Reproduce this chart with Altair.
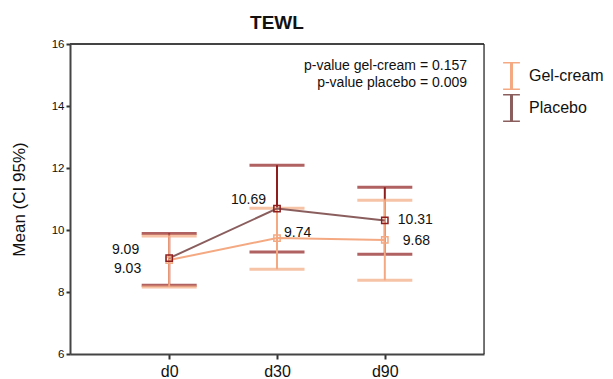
import altair as alt
import pandas as pd

days = ["d0", "d30", "d90"]
groups = ["Gel-cream", "Placebo"]
gel_mean = [9.03, 9.74, 9.68]
gel_low = [8.16, 8.73, 8.38]
gel_high = [9.81, 10.70, 10.96]
pla_mean = [9.09, 10.69, 10.31]
pla_low = [8.22, 9.29, 9.22]
pla_high = [9.89, 12.09, 11.38]
pvalue_lines = ["p-value gel-cream = 0.157", "p-value placebo = 0.009"]

rows = []
for g, m, lo, hi in [("Gel-cream", gel_mean, gel_low, gel_high),
                     ("Placebo", pla_mean, pla_low, pla_high)]:
    for d, mv, lv, hv in zip(days, m, lo, hi):
        rows.append({"group": g, "day": d, "mean": mv, "low": lv, "high": hv,
                     "label": f"{mv:.2f}"})
df = pd.DataFrame(rows)

FONT = "Liberation Sans"
GEL = "#f4a982"
PLA_BAR = "#8e1e1e"
PLA_LINE = "#8b5e5e"
W, H = 414, 310

x_enc = alt.X("day:N", sort=days, title=None,
              scale=alt.Scale(type="point", padding=0.92),
              axis=alt.Axis(labelAngle=0, labelFontSize=16, tickSize=5, tickWidth=2,
                            labelPadding=4, domainWidth=2, domainColor="#444",
                            tickColor="#333", labelColor="#111", labelFont=FONT))
y_scale = alt.Scale(domain=[6, 16], nice=False, zero=False)
y_axis = alt.Axis(values=[6, 8, 10, 12, 14, 16], title="Mean (CI 95%)", grid=False,
                  labelFontSize=11.5, tickSize=4, tickWidth=2, labelPadding=2,
                  domainWidth=2, domainColor="#444", tickColor="#333",
                  labelColor="#111", titleFontSize=17, titleFontWeight="normal",
                  titleColor="#111", titlePadding=23, labelFont=FONT, titleFont=FONT)

base = alt.Chart(df)


def errbars(group, color):
    sub = base.transform_filter(alt.datum.group == group)
    rule = sub.mark_rule(color=color, strokeWidth=2).encode(
        x=x_enc, y=alt.Y("low:Q", scale=y_scale, axis=y_axis), y2="high:Q")
    lo = sub.mark_tick(color=color, thickness=3, size=55, orient="horizontal").encode(
        x=x_enc, y=alt.Y("low:Q", scale=y_scale))
    hi = sub.mark_tick(color=color, thickness=3, size=55, orient="horizontal").encode(
        x=x_enc, y=alt.Y("high:Q", scale=y_scale))
    return [rule, lo, hi]


lines = base.mark_line(strokeWidth=2).encode(
    x=x_enc, y=alt.Y("mean:Q", scale=y_scale),
    color=alt.Color("group:N", sort=groups,
                    scale=alt.Scale(domain=groups, range=[GEL, PLA_LINE]),
                    legend=alt.Legend(title=None, orient="none", legendX=433, legendY=18,
                                      symbolType="M-1.2,-2H1.2M0,-2V2M-1.2,2H1.2",
                                      symbolSize=196, symbolStrokeWidth=3,
                                      symbolFillColor="transparent",
                                      labelFontSize=16, labelFont=FONT, labelColor="#111",
                                      labelOffset=9, rowPadding=4, clipHeight=28,
                                      labelLimit=200, padding=0)),
    order=alt.Order("day:N"))


def points(group, color):
    return base.transform_filter(alt.datum.group == group).mark_point(
        shape="square", filled=False, size=40, strokeWidth=1.5, color=color, opacity=1
    ).encode(x=x_enc, y=alt.Y("mean:Q", scale=y_scale))


label_offsets = {
    ("Placebo", "d0"): (-30, -8, "right"),
    ("Gel-cream", "d0"): (-28, 9, "right"),
    ("Placebo", "d30"): (-11, -9, "right"),
    ("Gel-cream", "d30"): (7, -5, "left"),
    ("Placebo", "d90"): (13, 0, "left"),
    ("Gel-cream", "d90"): (18, 1, "left"),
}
labels = []
for (g, d), (dx, dy, al) in label_offsets.items():
    labels.append(
        base.transform_filter((alt.datum.group == g) & (alt.datum.day == d)).mark_text(
            dx=dx, dy=dy, align=al, baseline="middle", fontSize=14, font=FONT, color="#111"
        ).encode(x=x_enc, y=alt.Y("mean:Q", scale=y_scale), text="label:N"))

ptexts = []
for txt, yy in zip(pvalue_lines, [22, 39]):
    ptexts.append(alt.Chart(pd.DataFrame({"t": [txt]})).mark_text(
        align="right", baseline="middle", fontSize=14, font=FONT, color="#111"
    ).encode(x=alt.value(397), y=alt.value(yy), text="t:N"))

frame = alt.Chart(pd.DataFrame({"t": [0]}))
top_border = frame.mark_rule(color="#444", strokeWidth=2).encode(
    x=alt.value(0), x2=alt.value(W), y=alt.value(0))
right_border = frame.mark_rule(color="#222", strokeWidth=1.2).encode(
    x=alt.value(W), y=alt.value(0), y2=alt.value(H))

layers = (errbars("Placebo", PLA_BAR) + errbars("Gel-cream", GEL) + [lines]
          + [points("Gel-cream", GEL), points("Placebo", PLA_BAR)] + labels + ptexts
          + [top_border, right_border])

chart = alt.layer(*layers).properties(
    width=W, height=H,
    title=alt.TitleParams("TEWL", fontSize=19, fontWeight="bold", font=FONT,
                          anchor="middle", offset=5, color="#111"),
    autosize=alt.AutoSizeParams(type="none"),
    padding={"left": 62, "top": 36, "right": 121, "bottom": 25},
).configure_view(stroke=None).configure(background="white")

chart.save("out.html", embed_options={"renderer": "svg", "actions": False})
